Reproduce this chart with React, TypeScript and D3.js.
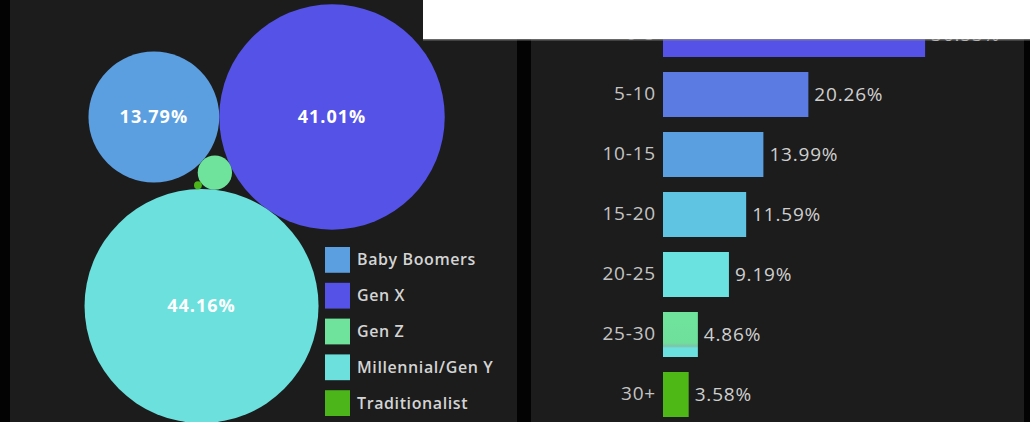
import React from "react";
import * as d3 from "d3";

// ---- Data ----
const generations = ["Baby Boomers", "Gen X", "Gen Z", "Millennial/Gen Y", "Traditionalist"];
const generationShare = [13.79, 41.01, 0.95, 44.16, 0.05];
const generationColors = ["#5b9fe1", "#5552e7", "#6fe39c", "#6be0dd", "#4cb51a"];

const tenureBands = ["0-5", "5-10", "10-15", "15-20", "20-25", "25-30", "30+"];
const tenureShare = [36.53, 20.26, 13.99, 11.59, 9.19, 4.86, 3.58];
const tenureColors = ["#5552e8", "#5b7be2", "#5aa0e1", "#5ec4e1", "#6ae2e0", "url(#mixGrad)", "#4db816"];

const W = 1030;
const H = 422;
const FONT = "'Open Sans', 'DejaVu Sans', sans-serif";

type Circ = { x: number; y: number; r: number };

// intersection of two circles (centres a,b, radii ra, rb); returns both points
function intersect(a: Circ, ra: number, b: Circ, rb: number) {
  const dx = b.x - a.x, dy = b.y - a.y;
  const d = Math.hypot(dx, dy);
  const l = (ra * ra - rb * rb + d * d) / (2 * d);
  const h = Math.sqrt(Math.max(0, ra * ra - l * l));
  const mx = a.x + (dx * l) / d, my = a.y + (dy * l) / d;
  return [
    { x: mx + (h * -dy) / d, y: my + (h * dx) / d },
    { x: mx - (h * -dy) / d, y: my - (h * dx) / d },
  ];
}

function bubbleLayout() {
  const rScale = d3.scaleSqrt().domain([0, d3.max(generationShare) as number]).range([0, 117]);
  const r = generationShare.map((v) => rScale(v));
  const [iBB, iX, iZ, iM, iT] = [0, 1, 2, 3, 4];
  const pos: Circ[] = new Array(5);
  pos[iX] = { x: 332, y: 117, r: r[iX] };
  const place = (ref: Circ, rr: number, angleDeg: number): Circ => {
    const a = (angleDeg * Math.PI) / 180;
    const d = ref.r + rr;
    return { x: ref.x + Math.cos(a) * d, y: ref.y + Math.sin(a) * d, r: rr };
  };
  pos[iBB] = place(pos[iX], r[iBB], 180);
  pos[iM] = place(pos[iX], r[iM], 124.6);
  {
    const pts = intersect(pos[iBB], r[iBB] + r[iZ], pos[iM], r[iM] + r[iZ]);
    const best = pts.sort((p, q) => Math.hypot(p.x - pos[iX].x, p.y - pos[iX].y) - Math.hypot(q.x - pos[iX].x, q.y - pos[iX].y))[0];
    pos[iZ] = { ...best, r: r[iZ] };
  }
  {
    const pts = intersect(pos[iZ], r[iZ] + r[iT], pos[iM], r[iM] + r[iT]);
    const best = pts.sort((p, q) => Math.hypot(p.x - pos[iBB].x, p.y - pos[iBB].y) - Math.hypot(q.x - pos[iBB].x, q.y - pos[iBB].y))[0];
    pos[iT] = { ...best, r: r[iT] };
  }
  return pos;
}

export default function App() {
  const bubbles = bubbleLayout();

  const y = d3.scaleBand<string>().domain(tenureBands).range([4.5, 424.5]).paddingInner(0.25).paddingOuter(0.125);
  const x = d3.scaleLinear().domain([0, 40]).range([663, 950]);

  const legendY = d3.scaleBand<string>().domain(generations).range([247, 416]).paddingInner(0.28);

  return (
    <div style={{ position: "fixed", left: 0, top: 0 }}>
      <svg width={W} height={H} style={{ display: "block" }} fontFamily={FONT}>
        <defs>
          <linearGradient id="mixGrad" x1="0" y1="0" x2="0" y2="1">
            <stop offset="0" stopColor="#6fe39c" />
            <stop offset="0.68" stopColor="#6fe09c" />
            <stop offset="0.76" stopColor="#7cc4a8" />
            <stop offset="0.8" stopColor="#6ae0df" />
            <stop offset="1" stopColor="#6ae0df" />
          </linearGradient>
        </defs>
        <rect x={0} y={0} width={W} height={H} fill="#030303" />
        <rect x={10} y={0} width={507} height={H} fill="#1c1c1c" />
        <rect x={531} y={0} width={493} height={H} fill="#1c1c1c" />

        <g>
          {bubbles.map((b, i) => (
            <circle key={generations[i]} cx={b.x} cy={b.y} r={b.r} fill={generationColors[i]} />
          ))}
          {bubbles.map((b, i) =>
            b.r > 30 ? (
              <text
                key={"l" + i}
                x={b.x}
                y={b.y}
                dy="0.35em"
                textAnchor="middle"
                fill="#ffffff"
                fontWeight={700}
                fontSize={18}
                letterSpacing={1}
              >
                {generationShare[i].toFixed(2)}%
              </text>
            ) : null
          )}
        </g>

        <g>
          {generations.map((g, i) => (
            <g key={g}>
              <rect x={325} y={legendY(g)} width={25} height={legendY.bandwidth()} fill={generationColors[i]} />
              <text
                x={357}
                y={(legendY(g) as number) + legendY.bandwidth() / 2}
                dy="0.35em"
                fill="#d4d4d4"
                fontSize={16}
                fontWeight={600}
                letterSpacing={0.6}
              >
                {g}
              </text>
            </g>
          ))}
        </g>

        <g>
          {tenureBands.map((t, i) => {
            const y0 = y(t) as number;
            const cy = y0 + y.bandwidth() / 2;
            return (
              <g key={t}>
                <rect x={x(0)} y={y0} width={x(tenureShare[i]) - x(0)} height={y.bandwidth()} fill={tenureColors[i]} />
                <text x={656} y={cy - 1.5} dy="0.35em" textAnchor="end" fill="#c4c4c4" fontSize={19} letterSpacing={0.8}>
                  {t}
                </text>
                <text x={x(tenureShare[i]) + 6} y={cy} dy="0.35em" fill="#cfcfcf" fontSize={19} letterSpacing={0.8}>
                  {tenureShare[i].toFixed(2)}%
                </text>
              </g>
            );
          })}
        </g>

        <rect x={423} y={0} width={W - 423} height={39} fill="#ffffff" />
        <rect x={423} y={39} width={W - 423} height={1.5} fill="#8a8a8a" opacity={0.7} />
      </svg>
    </div>
  );
}
